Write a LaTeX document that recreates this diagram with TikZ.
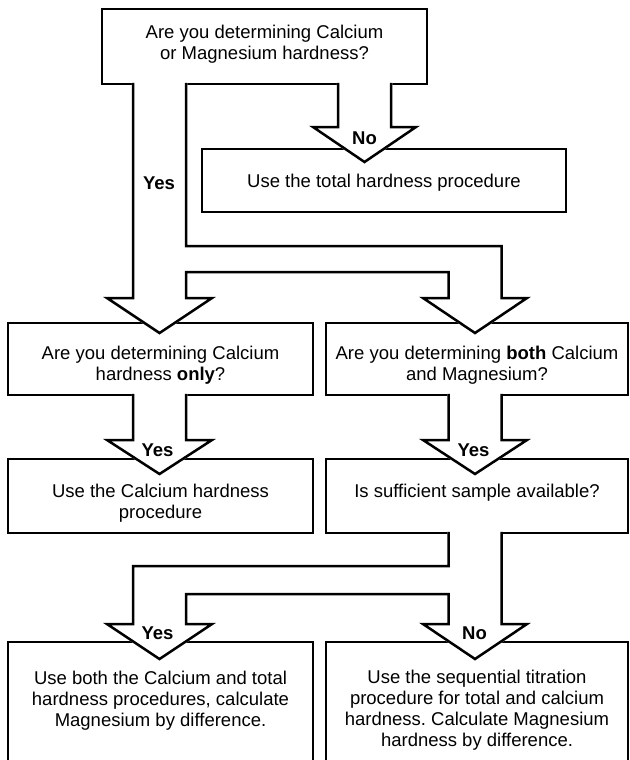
\documentclass[tikz,border=0pt]{standalone}
\usepackage{fontspec}
\setmainfont{Liberation Sans}
\usepackage{tikz}
\frenchspacing

\begin{document}
\begin{tikzpicture}[x=1pt, y=-1pt, line width=2.5pt,
  box/.style={draw, fill=white, outer sep=0pt, inner sep=0pt},
  txt/.style={align=center, inner sep=0pt, font=\fontsize{18.5}{21}\selectfont},
  lab/.style={inner sep=0pt, font=\fontsize{18.5}{21}\selectfont\bfseries},
  pipe/.style={line cap=rect}]

% page frame, the two last boxes run off the lower edge
\useasboundingbox (0,0) rectangle (629,760);
\clip (0,0) rectangle (629,760);

% Boxes
\node[box, minimum width=325pt, minimum height=75pt] (q1) at (264.5,46.5) {};
\node[box, minimum width=364pt, minimum height=63pt] (tot) at (384,180.5) {};
\node[box, minimum width=305pt, minimum height=72pt] (qca) at (160.5,359) {};
\node[box, minimum width=302pt, minimum height=72pt] (qboth) at (477,359) {};
\node[box, minimum width=305pt, minimum height=74pt] (useca) at (160.5,496) {};
\node[box, minimum width=302pt, minimum height=74pt] (suff) at (477,496) {};
\node[box, minimum width=305pt, minimum height=148pt] (both) at (160.5,716) {};
\node[box, minimum width=302pt, minimum height=148pt] (seq) at (477,716) {};

% Block arrows (white fill hides the box edge under the pipe)
% q1 -> qca and qboth
\filldraw[white] (133,0 |- q1.south) -- (133,298) -- (107,298) -- (159.5,333) -- (212,298) -- (186,298) -- (186,272) -- (448.5,272) -- (448.5,298) -- (423,298) -- (475,333) -- (527,298) -- (501.5,298) -- (501.5,246) -- (186,246) -- (186,0 |- q1.south) -- cycle;
\draw[pipe] (133,0 |- q1.south) -- (133,298) -- (107,298) -- (159.5,333) -- (212,298) -- (186,298) -- (186,272) -- (448.5,272) -- (448.5,298) -- (423,298) -- (475,333) -- (527,298) -- (501.5,298) -- (501.5,246) -- (186,246) -- (186,0 |- q1.south);

% q1 -> tot
\filldraw[white] (338,0 |- q1.south) -- (338,127) -- (313,127) -- (364.5,162) -- (416,127) -- (391,127) -- (391,0 |- q1.south) -- cycle;
\draw[pipe] (338,0 |- q1.south) -- (338,127) -- (313,127) -- (364.5,162) -- (416,127) -- (391,127) -- (391,0 |- q1.south);

% qca -> useca
\filldraw[white] (133,0 |- qca.south) -- (133,440) -- (107,440) -- (159.5,474) -- (212,440) -- (186,440) -- (186,0 |- qca.south) -- cycle;
\draw[pipe] (133,0 |- qca.south) -- (133,440) -- (107,440) -- (159.5,474) -- (212,440) -- (186,440) -- (186,0 |- qca.south);

% qboth -> suff
\filldraw[white] (448.5,0 |- qboth.south) -- (448.5,440) -- (423,440) -- (475,474) -- (527,440) -- (501.5,440) -- (501.5,0 |- qboth.south) -- cycle;
\draw[pipe] (448.5,0 |- qboth.south) -- (448.5,440) -- (423,440) -- (475,474) -- (527,440) -- (501.5,440) -- (501.5,0 |- qboth.south);

% suff -> both and seq
\filldraw[white] (448.5,0 |- suff.south) -- (448.5,566) -- (133,566) -- (133,624) -- (107,624) -- (159.5,659) -- (212,624) -- (186,624) -- (186,594) -- (448.5,594) -- (448.5,624) -- (423,624) -- (475,659) -- (527,624) -- (501.5,624) -- (501.5,0 |- suff.south) -- cycle;
\draw[pipe] (448.5,0 |- suff.south) -- (448.5,566) -- (133,566) -- (133,624) -- (107,624) -- (159.5,659) -- (212,624) -- (186,624) -- (186,594) -- (448.5,594) -- (448.5,624) -- (423,624) -- (475,659) -- (527,624) -- (501.5,624) -- (501.5,0 |- suff.south);

% Texts
\node[txt] (q1txt) at (264.5,44.3) {Are you determining Calcium\\or Magnesium hardness?};
\node[txt] (tottxt) at (384,183) {Use the total hardness procedure};
\node[txt] (qcatxt) at (160.5,365.6) {Are you determining Calcium\\hardness \textbf{only}?};
\node[txt] (qbothtxt) at (477,365.6) {Are you determining \textbf{both} Calcium\\and Magnesium?};
\node[txt] (usecatxt) at (160.5,503.6) {Use the Calcium hardness\\procedure};
\node[txt] (sufftxt) at (477,493.2) {Is sufficient sample available?};
\node[txt] (bothtxt) at (160.5,701) {Use both the Calcium and total\\hardness procedures, calculate\\Magnesium by difference.};
\node[txt] (seqtxt) at (477,710) {Use the sequential titration\\procedure for total and calcium\\hardness. Calculate Magnesium\\hardness by difference.};

% Yes / No
\node[lab] (yes1) at (159,183) {Yes};
\node[lab] (no1) at (364.5,138) {No};
\node[lab] (yes2) at (157.5,450) {Yes};
\node[lab] (yes3) at (473.5,450) {Yes};
\node[lab] (yes4) at (157.5,633) {Yes};
\node[lab] (no2) at (474.5,633) {No};

\end{tikzpicture}
\end{document}
